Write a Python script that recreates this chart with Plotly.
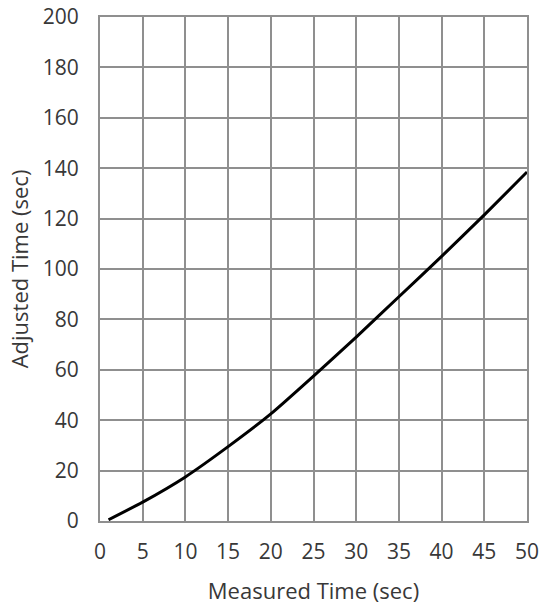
import plotly.graph_objects as go

measured = [1, 5, 10, 15, 20, 25, 30, 35, 40, 45, 50]
adjusted = [0.5, 7.5, 17.5, 29.5, 42.5, 57.5, 73, 89, 105, 121.5, 138.5]

x_ticks = [0, 5, 10, 15, 20, 25, 30, 35, 40, 45, 50]
y_ticks = [0, 20, 40, 60, 80, 100, 120, 140, 160, 180, 200]

grid = "#8f8f8f"
txt = "#383838"

fig = go.Figure()
fig.add_trace(go.Scatter(x=measured, y=adjusted, mode="lines",
                         line=dict(color="black", width=3, shape="spline", smoothing=0.5),
                         showlegend=False, hoverinfo="skip"))

fig.update_layout(
    width=540, height=606,
    margin=dict(l=100, r=13, t=17, b=85, autoexpand=False),
    paper_bgcolor="white", plot_bgcolor="white",
    font=dict(family="Open Sans, Liberation Sans, sans-serif", color=txt, size=21),
)
fig.update_xaxes(range=[0, 50], tickvals=x_ticks, showgrid=True, gridcolor=grid, gridwidth=2,
                 showline=True, linecolor=grid, linewidth=2, mirror=True, zeroline=False,
                 automargin=False,
                 ticks="", ticklabelstandoff=11, tickfont=dict(size=21, color=txt),
                 title=dict(text="Measured Time (sec)", font=dict(size=22, color=txt), standoff=19))
fig.update_yaxes(range=[0, 200], tickvals=y_ticks, showgrid=True, gridcolor=grid, gridwidth=2,
                 showline=True, linecolor=grid, linewidth=2, mirror=True, zeroline=False,
                 automargin=False,
                 ticks="", ticklabelstandoff=15, tickfont=dict(size=21, color=txt),
                 title=dict(text="Adjusted Time (sec)", font=dict(size=22, color=txt), standoff=8))

fig.write_html("out.html")
